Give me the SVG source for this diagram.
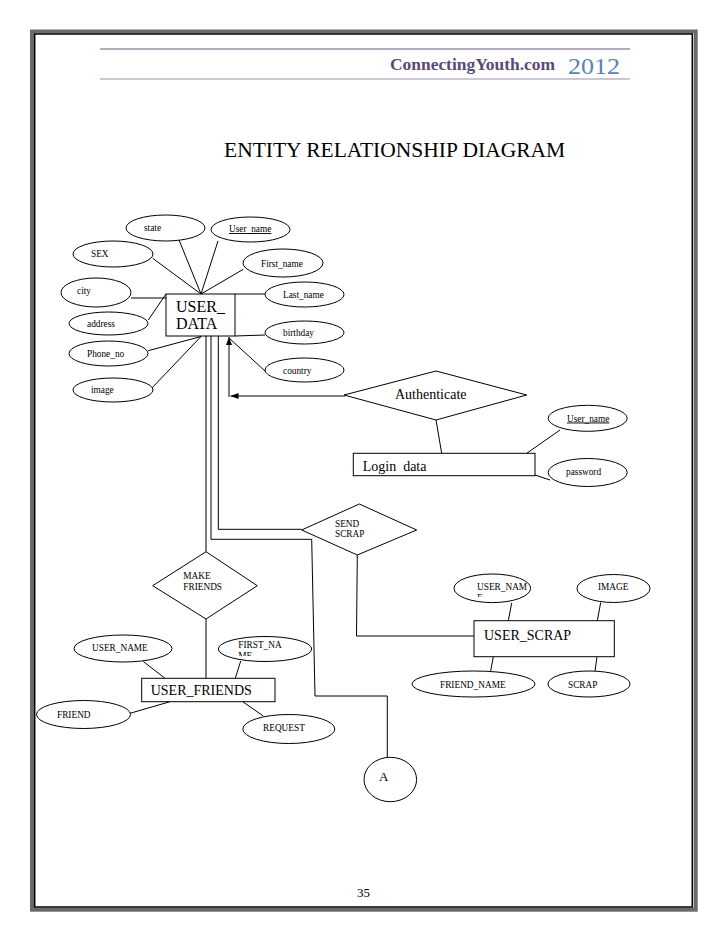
<svg xmlns="http://www.w3.org/2000/svg" width="728" height="942" viewBox="0 0 728 942">
<style>
  .e{fill:#fff;stroke:#000;stroke-width:1}
  .b{fill:#fff;stroke:#000;stroke-width:1}
  .d{fill:#fff;stroke:#000;stroke-width:1}
  .l{fill:none;stroke:#000;stroke-width:1}
  .t{font-family:"Liberation Serif","Times New Roman",serif;fill:#000}
  .s{font-size:9.3px}
  .m{font-size:14px}
  .u{text-decoration:underline}
</style>
<defs>
  <marker id="ah" markerWidth="8" markerHeight="6" refX="8" refY="3" orient="auto" markerUnits="userSpaceOnUse">
    <path d="M0,0 L8,3 L0,6 z" fill="#000"/>
  </marker>
  <clipPath id="cUN"><rect x="450" y="574" width="85" height="23"/></clipPath>
  <clipPath id="cFN"><rect x="215" y="636" width="100" height="20"/></clipPath>
</defs>

<g id="page">
  <rect x="32" y="31.5" width="663.7" height="878.2" fill="none" stroke="#6a6a6a" stroke-width="4"/>
  <rect x="34.7" y="34" width="657.6" height="873" fill="none" stroke="#000" stroke-width="1.5"/>
  <line x1="100" y1="49" x2="630" y2="49" stroke="#9b8fa8" stroke-width="1.5"/>
  <line x1="100" y1="79" x2="630" y2="79" stroke="#9b8fa8" stroke-width="1.2"/>
  <text x="390" y="70" font-family="'Liberation Serif',serif" font-weight="bold" font-size="16.5" fill="#5a4a78" textLength="165" lengthAdjust="spacingAndGlyphs">ConnectingYouth.com</text>
  <text x="568" y="74" font-family="'Liberation Serif',serif" font-size="24" fill="#5b84b1" textLength="52" lengthAdjust="spacingAndGlyphs">2012</text>
  <text x="224" y="157" class="t" font-size="21.5">ENTITY RELATIONSHIP DIAGRAM</text>
  <text x="357" y="897" class="t" font-size="13">35</text>
</g>

<g id="connectors">
  <!-- USER_DATA attributes -->
  <line class="l" x1="179" y1="240" x2="201" y2="294"/>
  <line class="l" x1="218" y1="241" x2="201" y2="294"/>
  <line class="l" x1="152.7" y1="258.3" x2="201" y2="294"/>
  <line class="l" x1="243.3" y1="269.3" x2="201" y2="294"/>
  <line class="l" x1="235" y1="294" x2="265" y2="294"/>
  <line class="l" x1="131" y1="298" x2="166" y2="298"/>
  <line class="l" x1="148.3" y1="320" x2="166" y2="294"/>
  <line class="l" x1="235" y1="336" x2="265" y2="335"/>
  <line class="l" x1="148.3" y1="350.7" x2="201" y2="336.5"/>
  <line class="l" x1="150" y1="390" x2="201" y2="336.5"/>
  <line class="l" x1="265" y1="371" x2="229" y2="338"/>
  <!-- Authenticate arrows -->
  <line class="l" x1="345" y1="396" x2="230.5" y2="396" marker-end="url(#ah)"/>
  <line class="l" x1="229" y1="397" x2="229" y2="337" marker-end="url(#ah)"/>
  <!-- Authenticate to Login data -->
  <line class="l" x1="436" y1="420" x2="441.7" y2="453.3"/>
  <line class="l" x1="560" y1="430" x2="526.7" y2="453.3"/>
  <line class="l" x1="535" y1="475" x2="550" y2="480"/>
  <!-- USER_DATA to MAKE FRIENDS -->
  <line class="l" x1="206" y1="336" x2="206" y2="551.7"/>
  <!-- USER_DATA to A -->
  <polyline class="l" points="211,336 211,539.3 311.7,539.3 315,696 387.3,696 387.3,757.3"/>
  <!-- USER_DATA to SEND SCRAP -->
  <polyline class="l" points="218.3,336 218.3,529.3 301.7,529.3"/>
  <!-- SEND SCRAP to USER_SCRAP -->
  <polyline class="l" points="357.3,555 356.5,636 474,636"/>
  <!-- USER_SCRAP attributes -->
  <line class="l" x1="511.7" y1="603" x2="508.3" y2="620.7"/>
  <line class="l" x1="600.7" y1="602.5" x2="597.3" y2="620.7"/>
  <line class="l" x1="493.3" y1="656.7" x2="490.7" y2="671"/>
  <line class="l" x1="597" y1="656.7" x2="595" y2="671"/>
  <!-- MAKE FRIENDS to USER_FRIENDS -->
  <line class="l" x1="206" y1="619" x2="206" y2="678.3"/>
  <!-- USER_FRIENDS attributes -->
  <line class="l" x1="240.7" y1="661" x2="235.3" y2="678.3"/>
  <line class="l" x1="143.3" y1="661.5" x2="165" y2="678.3"/>
  <line class="l" x1="130" y1="713.3" x2="170" y2="701.7"/>
  <line class="l" x1="242.7" y1="701.7" x2="263.3" y2="716"/>
</g>

<g id="USER_DATA">
  <rect class="b" x="166" y="294" width="69" height="42"/>
  <text class="t" font-size="16" x="176" y="312">USER_</text>
  <text class="t" font-size="16" x="176" y="329">DATA</text>
</g>
<g id="attr_state"><ellipse class="e" cx="165.5" cy="228" rx="39.5" ry="13"/><text class="t s" x="144" y="231">state</text></g>
<g id="attr_user_name"><ellipse class="e" cx="250.5" cy="229.5" rx="39.5" ry="12.5"/><text class="t s u" x="229" y="232">User_name</text></g>
<g id="attr_sex"><ellipse class="e" cx="113" cy="254" rx="40" ry="13"/><text class="t s" x="91" y="257">SEX</text></g>
<g id="attr_first_name"><ellipse class="e" cx="283" cy="263" rx="40" ry="14"/><text class="t s" x="261" y="266.5">First_name</text></g>
<g id="attr_city"><ellipse class="e" cx="96" cy="292.5" rx="35" ry="14.5"/><text class="t s" x="77" y="294">city</text></g>
<g id="attr_last_name"><ellipse class="e" cx="304.5" cy="294.5" rx="39.5" ry="12.5"/><text class="t s" x="283" y="297.5">Last_name</text></g>
<g id="attr_address"><ellipse class="e" cx="108.5" cy="323.5" rx="39.5" ry="11.5"/><text class="t s" x="87" y="326.5">address</text></g>
<g id="attr_birthday"><ellipse class="e" cx="304.5" cy="332.5" rx="39.5" ry="11.5"/><text class="t s" x="283" y="335.5">birthday</text></g>
<g id="attr_phone_no"><ellipse class="e" cx="108.5" cy="353.5" rx="39.5" ry="12.5"/><text class="t s" x="87" y="356.5">Phone_no</text></g>
<g id="attr_country"><ellipse class="e" cx="304.5" cy="370" rx="39.5" ry="12"/><text class="t s" x="283" y="373.5">country</text></g>
<g id="attr_image"><ellipse class="e" cx="113" cy="390" rx="40" ry="12"/><text class="t s" x="91" y="392.5">image</text></g>

<g id="Authenticate">
  <polygon class="d" points="344,395 436,371 526.7,395 436,420"/>
  <text class="t" font-size="14" x="395" y="399">Authenticate</text>
</g>
<g id="Login_data">
  <rect class="b" x="353.3" y="453.3" width="181.7" height="22.4"/>
  <text class="t m" x="362.7" y="470.5" xml:space="preserve">Login  data</text>
</g>
<g id="attr_login_user_name"><ellipse class="e" cx="587.7" cy="418.3" rx="39.5" ry="13"/><text class="t s u" x="567" y="421.5">User_name</text></g>
<g id="attr_password"><ellipse class="e" cx="587.7" cy="472.5" rx="39.5" ry="14"/><text class="t s" x="566" y="475">password</text></g>

<g id="SEND_SCRAP">
  <polygon class="d" points="301.7,530 359.3,504 416.7,530 357.3,555"/>
  <text class="t s" x="335" y="527">SEND</text>
  <text class="t s" x="335" y="537">SCRAP</text>
</g>

<g id="MAKE_FRIENDS">
  <polygon class="d" points="152.7,585.7 206,551.7 257.3,585.7 206,619"/>
  <text class="t s" x="183.3" y="578.5">MAKE</text>
  <text class="t s" x="183.3" y="589.5">FRIENDS</text>
</g>

<g id="USER_SCRAP">
  <rect class="b" x="474" y="620.7" width="140.3" height="36"/>
  <text class="t m" x="484" y="639.5">USER_SCRAP</text>
</g>
<g id="attr_scrap_user_name"><ellipse class="e" cx="492.3" cy="588.3" rx="38.3" ry="14.3"/><g clip-path="url(#cUN)"><text class="t s" x="477" y="590">USER_NAM</text><text class="t s" x="477" y="601">E</text></g></g>
<g id="attr_scrap_image"><ellipse class="e" cx="613.5" cy="588.5" rx="36.5" ry="14"/><text class="t s" x="598" y="590">IMAGE</text></g>
<g id="attr_friend_name"><ellipse class="e" cx="473.5" cy="684" rx="61.5" ry="13"/><text class="t s" x="440" y="688">FRIEND_NAME</text></g>
<g id="attr_scrap"><ellipse class="e" cx="589" cy="684" rx="41" ry="13"/><text class="t s" x="568" y="688">SCRAP</text></g>

<g id="USER_FRIENDS">
  <rect class="b" x="141.7" y="678.3" width="133.3" height="23.4"/>
  <text class="t m" x="150.7" y="695">USER_FRIENDS</text>
</g>
<g id="attr_friends_first_name"><ellipse class="e" cx="265" cy="649" rx="46.7" ry="12.5"/><g clip-path="url(#cFN)"><text class="t s" x="238.3" y="648">FIRST_NA</text><text class="t s" x="238.3" y="659">ME</text></g></g>
<g id="attr_friends_user_name"><ellipse class="e" cx="123" cy="648.5" rx="49" ry="13.5"/><text class="t s" x="92" y="651">USER_NAME</text></g>
<g id="attr_friend"><ellipse class="e" cx="83.5" cy="714.5" rx="47" ry="14"/><text class="t s" x="57" y="718">FRIEND</text></g>
<g id="attr_request"><ellipse class="e" cx="288.8" cy="729" rx="46" ry="14.5"/><text class="t s" x="263" y="731">REQUEST</text></g>

<g id="A">
  <ellipse class="e" cx="390.3" cy="779.5" rx="26.3" ry="22.2"/>
  <text class="t" font-size="13" x="379" y="781">A</text>
</g>
</svg>
